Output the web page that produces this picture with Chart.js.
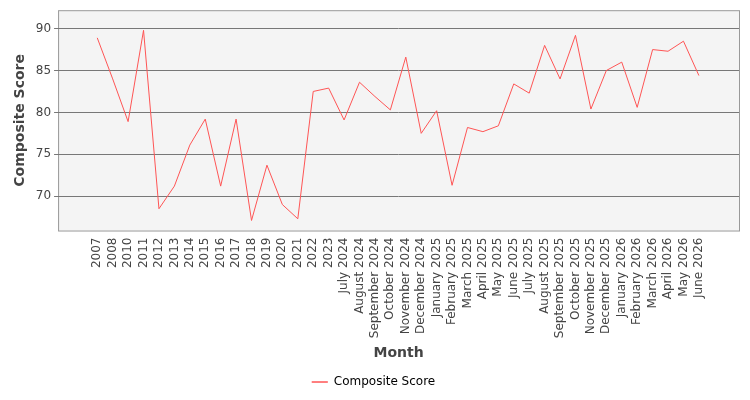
<!DOCTYPE html>
<html><head><meta charset="utf-8">
<script src="https://cdn.jsdelivr.net/npm/chart.js@4"></script>
<style>html,body{margin:0;padding:0;background:#fff}canvas{display:block}</style>
</head><body><canvas id="c" width="750" height="400" style="width:750px;height:400px"></canvas>
<script>
const categories=["2007","2008","2010","2011","2012","2013","2014","2015","2016","2017","2018","2019","2020","2021","2022","2023","July 2024","August 2024","September 2024","October 2024","November 2024","December 2024","January 2025","February 2025","March 2025","April 2025","May 2025","June 2025","July 2025","August 2025","September 2025","October 2025","November 2025","December 2025","January 2026","February 2026","March 2026","April 2026","May 2026","June 2026"];
const scores=[88.9,84.0,78.9,89.8,68.5,71.2,76.1,79.2,71.2,79.2,67.1,73.7,69.0,67.3,82.5,82.9,79.1,83.6,81.9,80.3,86.6,77.5,80.2,71.3,78.2,77.7,78.4,83.4,82.3,88.0,84.0,89.2,80.4,85.0,86.0,80.6,87.5,87.3,88.5,84.4];
const yTicks=[70,75,80,85,90];
const bgPlugin={id:'bg',beforeDraw(ch){const a=ch.chartArea,x=ch.ctx;x.save();x.fillStyle='#f4f4f4';x.fillRect(a.left,a.top,a.right-a.left,a.bottom-a.top);x.strokeStyle='#999';x.lineWidth=1;x.strokeRect(a.left+0.5,a.top+0.5,a.right-a.left,a.bottom-a.top);x.restore();}};
new Chart(document.getElementById('c'),{type:'line',
data:{datasets:[{label:'Composite Score',data:scores.map((v,i)=>({x:i,y:v})),borderColor:'#ff5555',backgroundColor:'#ff5555',borderWidth:1,pointRadius:0,tension:0}]},
options:{responsive:false,animation:false,maintainAspectRatio:false,devicePixelRatio:1,
layout:{padding:{left:8,right:11,top:7,bottom:2}},
plugins:{legend:{position:'bottom',labels:{boxWidth:16,boxHeight:0,font:{family:'DejaVu Sans',size:12},color:'#333',generateLabels:(ch)=>[{text:'Composite Score',strokeStyle:'#ff5555',fillStyle:'#ff5555',lineWidth:1,datasetIndex:0}]}},tooltip:{enabled:false}},
scales:{
x:{type:'linear',min:-2.54,max:41.6,
afterBuildTicks:(s)=>{s.ticks=categories.map((_,i)=>({value:i}));},
ticks:{autoSkip:false,minRotation:90,maxRotation:90,callback:(v)=>categories[v],font:{family:'DejaVu Sans',size:12},color:'#444'},
grid:{display:false,drawTicks:true,tickLength:4},border:{display:false},
title:{display:true,text:'Month',font:{family:'DejaVu Sans',size:14,weight:'bold'},color:'#444'}},
y:{min:65.9,max:92.2,
afterBuildTicks:(s)=>{s.ticks=yTicks.map(v=>({value:v}));},
ticks:{font:{family:'DejaVu Sans',size:12},color:'#444'},
grid:{color:'#777',borderDash:[2,2],drawTicks:true,tickLength:4},border:{display:false},
title:{display:true,text:'Composite Score',font:{family:'DejaVu Sans',size:14,weight:'bold'},color:'#444'}}}},
plugins:[bgPlugin]});
</script></body></html>
